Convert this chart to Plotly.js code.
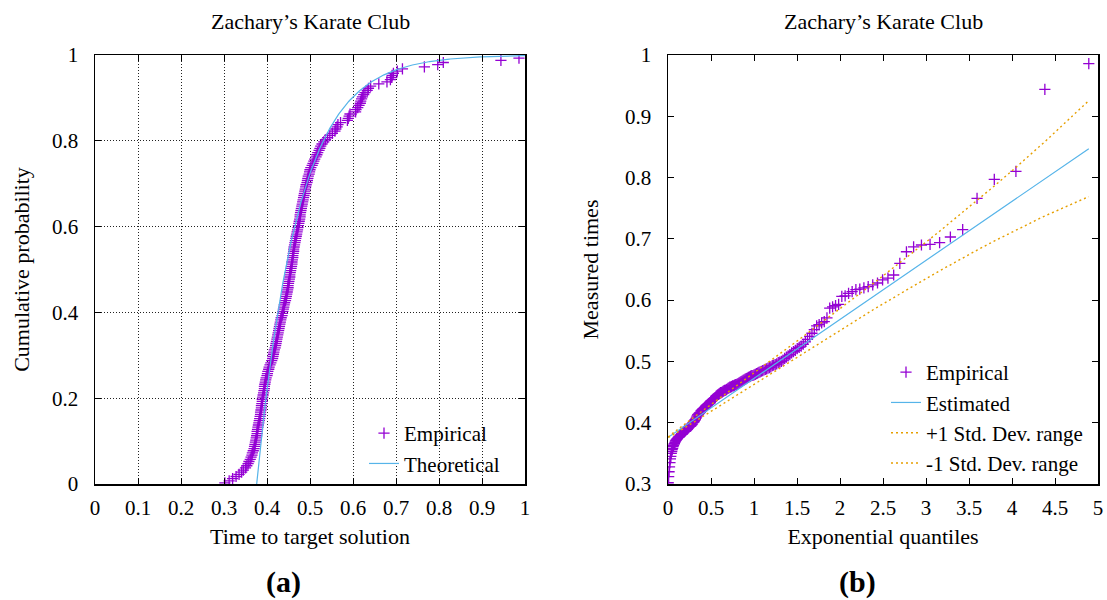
<!DOCTYPE html>
<html><head><meta charset="utf-8">
<script src="https://cdn.plot.ly/plotly-3.0.1.min.js"></script>
<style>html,body{margin:0;padding:0;background:#fff}</style>
</head><body><div id="chart" style="width:1107px;height:600px"></div>
<script>
// ---- data ----
const nRuns = 200; // 200 runs; the slowest lies beyond both axis ranges
const measuredTimes = [
0.302,0.312,0.320,0.328,0.335,0.341,0.345,0.350,0.353,0.356,
0.358,0.361,0.363,0.365,0.366,0.368,0.370,0.371,0.372,0.373,
0.374,0.375,0.376,0.377,0.377,0.378,0.379,0.380,0.381,0.382,
0.383,0.384,0.385,0.385,0.386,0.387,0.387,0.388,0.389,0.389,
0.390,0.391,0.392,0.393,0.394,0.394,0.395,0.396,0.397,0.398,
0.400,0.401,0.402,0.404,0.405,0.407,0.409,0.411,0.413,0.414,
0.415,0.416,0.417,0.419,0.420,0.421,0.422,0.423,0.424,0.425,
0.426,0.427,0.428,0.429,0.430,0.431,0.432,0.433,0.435,0.436,
0.437,0.438,0.439,0.440,0.441,0.443,0.444,0.445,0.446,0.447,
0.448,0.449,0.449,0.450,0.451,0.452,0.453,0.453,0.454,0.455,
0.456,0.457,0.458,0.458,0.459,0.460,0.460,0.461,0.462,0.462,
0.463,0.464,0.465,0.466,0.467,0.468,0.469,0.470,0.471,0.472,
0.473,0.474,0.475,0.476,0.477,0.477,0.478,0.479,0.480,0.481,
0.482,0.483,0.484,0.485,0.486,0.487,0.488,0.489,0.490,0.491,
0.493,0.494,0.495,0.496,0.498,0.499,0.500,0.502,0.505,0.507,
0.509,0.511,0.514,0.516,0.518,0.521,0.523,0.525,0.528,0.532,
0.536,0.541,0.546,0.552,0.558,0.560,0.563,0.565,0.571,0.587,
0.589,0.591,0.593,0.606,0.607,0.611,0.614,0.617,0.618,0.620,
0.622,0.625,0.628,0.633,0.636,0.641,0.660,0.679,0.687,0.690,
0.691,0.694,0.703,0.715,0.766,0.797,0.810,0.944,0.986
];
// fitted shifted-exponential parameters
const expShift = 0.376;
const expScale = 0.0963;

const xTicksA = [0,0.1,0.2,0.3,0.4,0.5,0.6,0.7,0.8,0.9,1];
const yTicksA = [0,0.2,0.4,0.6,0.8,1];
const xTicksB = [0,0.5,1,1.5,2,2.5,3,3.5,4,4.5,5];
const yTicksB = [0.3,0.4,0.5,0.6,0.7,0.8,0.9,1];

// ---- derived quantities (definition of the TTT plot) ----
const probs = measuredTimes.map((t,i)=>(i+1-0.5)/nRuns);
const quants = probs.map(p=>-Math.log(1-p));
const theoT = [];
for (let t=expShift; t<=1.0001; t+=0.002) theoT.push(t);
const theoP = theoT.map(t=>1-Math.exp(-(t-expShift)/expScale));
const estY = quants.map(q=>expShift+expScale*q);
const sd = probs.map(p=>Math.sqrt(p/((1-p)*nRuns)));
const upY = quants.map((q,i)=>expShift+expScale*(q+sd[i]));
const loY = quants.map((q,i)=>expShift+expScale*(q-sd[i]));

const FONT = "Liberation Serif";
const violet = "#9400D3", sky = "#56B4E9", orange = "#E69F00";
const W=1107, H=600;
const px = x=>x/W, py = y=>1-y/H;
const TXT = {family:FONT,size:22,color:"#000"};

const mk = {symbol:"cross-thin", size:8, color:violet, line:{color:violet,width:1.3}};

const traces = [
 {x:measuredTimes, y:probs, type:"scatter", mode:"markers", name:"Empirical", marker:mk, xaxis:"x", yaxis:"y", legend:"legend"},
 {x:theoT, y:theoP, type:"scatter", mode:"lines", name:"Theoretical", line:{color:sky,width:1.2}, xaxis:"x", yaxis:"y", legend:"legend"},
 {x:quants, y:measuredTimes, type:"scatter", mode:"markers", name:"Empirical", marker:mk, xaxis:"x2", yaxis:"y2", legend:"legend2"},
 {x:quants, y:estY, type:"scatter", mode:"lines", name:"Estimated", line:{color:sky,width:1.2}, xaxis:"x2", yaxis:"y2", legend:"legend2"},
 {x:quants, y:upY, type:"scatter", mode:"lines", name:"+1 Std. Dev. range", line:{color:orange,width:1.4,dash:"2px,3px"}, xaxis:"x2", yaxis:"y2", legend:"legend2"},
 {x:quants, y:loY, type:"scatter", mode:"lines", name:"-1 Std. Dev. range", line:{color:orange,width:1.4,dash:"2px,3px"}, xaxis:"x2", yaxis:"y2", legend:"legend2"}
];

const axBase = {showline:true, linecolor:"#000", linewidth:1.5, mirror:"ticks", ticks:"inside", ticklen:6, tickwidth:1, tickcolor:"#000",
  zeroline:false, tickfont:{family:FONT,size:21,color:"#000"}};

const yDom = [py(484), py(55)];
const layout = {
  width:W, height:H, margin:{l:0,r:0,t:0,b:0}, paper_bgcolor:"#fff", plot_bgcolor:"#fff",
  showlegend:true,
  xaxis: Object.assign({}, axBase, {domain:[px(95),px(525)], range:[0,1], tickvals:xTicksA, ticktext:xTicksA.map(String),
    showgrid:true, gridcolor:"#222", griddash:"1px,2px", gridwidth:1, anchor:"y", ticklabelstandoff:4,
    title:{text:"Time to target solution", standoff:10, font:TXT}}),
  yaxis: Object.assign({}, axBase, {domain:yDom, range:[0,1], tickvals:yTicksA, ticktext:yTicksA.map(String),
    showgrid:true, gridcolor:"#222", griddash:"1px,2px", gridwidth:1, anchor:"x", ticklabelstandoff:11,
    title:{text:"Cumulative probability", standoff:16, font:TXT}}),
  xaxis2: Object.assign({}, axBase, {domain:[px(668),px(1098)], range:[0,5], tickvals:xTicksB, ticktext:xTicksB.map(String),
    showgrid:false, anchor:"y2", ticklabelstandoff:4,
    title:{text:"Exponential quantiles", standoff:10, font:TXT}}),
  yaxis2: Object.assign({}, axBase, {domain:yDom, range:[0.3,1], tickvals:yTicksB, ticktext:yTicksB.map(String),
    showgrid:false, anchor:"x2", ticklabelstandoff:11,
    title:{text:"Measured times", standoff:20, font:TXT}}),
  legend:{x:px(505), xanchor:"right", y:py(484), yanchor:"bottom", bgcolor:"rgba(255,255,255,0)", borderwidth:0,
    font:{family:FONT,size:21,color:"#000"}, tracegroupgap:0},
  legend2:{x:px(1088), xanchor:"right", y:py(484), yanchor:"bottom", bgcolor:"rgba(255,255,255,0)", borderwidth:0,
    font:{family:FONT,size:21,color:"#000"}, tracegroupgap:0},
  shapes:[
    {type:"rect", xref:"paper", yref:"paper", x0:px(290), x1:px(510), y0:py(484), y1:py(435), layer:"between",
     fillcolor:"#fff", line:{width:0}}
  ],
  annotations:[
    {text:"Zachary\u2019s Karate Club", xref:"paper", yref:"paper", x:px(310), y:py(21), xanchor:"center", yanchor:"middle", showarrow:false, font:TXT},
    {text:"Zachary\u2019s Karate Club", xref:"paper", yref:"paper", x:px(883), y:py(21), xanchor:"center", yanchor:"middle", showarrow:false, font:TXT},
    {text:"<b>(a)</b>", xref:"paper", yref:"paper", x:px(283), y:py(582), xanchor:"center", yanchor:"middle", showarrow:false, font:{family:FONT,size:30,color:"#000"}},
    {text:"<b>(b)</b>", xref:"paper", yref:"paper", x:px(857), y:py(582), xanchor:"center", yanchor:"middle", showarrow:false, font:{family:FONT,size:30,color:"#000"}}
  ]
};
Plotly.newPlot("chart", traces, layout, {displayModeBar:false, staticPlot:true});
</script></body></html>
